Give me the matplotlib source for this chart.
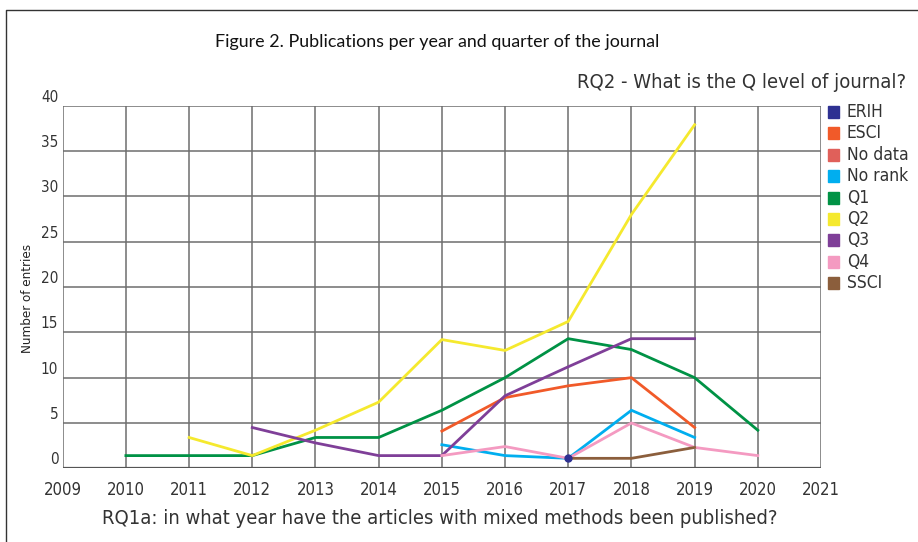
import matplotlib
matplotlib.use("Agg")
import matplotlib.pyplot as plt
from matplotlib.patches import Rectangle
from matplotlib.lines import Line2D

# data
years = [2009, 2010, 2011, 2012, 2013, 2014, 2015, 2016, 2017, 2018, 2019, 2020, 2021]
categories = ["ERIH", "ESCI", "No data", "No rank", "Q1", "Q2", "Q3", "Q4", "SSCI"]
colors = ["#2e3192", "#f15a29", "#e0605a", "#00aeef", "#009245", "#f5e92e", "#7f3f98", "#f49ac1", "#8b5e3c"]

erih_x = [2017]
erih_y = [1.1]
esci_x = [2015, 2016, 2017, 2018, 2019]
esci_y = [4.1, 7.8, 9.1, 10.0, 4.5]
norank_x = [2015, 2016, 2017, 2018, 2019]
norank_y = [2.6, 1.4, 1.1, 6.4, 3.4]
q1_x = [2010, 2011, 2012, 2013, 2014, 2015, 2016, 2017, 2018, 2019, 2020]
q1_y = [1.4, 1.4, 1.4, 3.4, 3.4, 6.4, 10.0, 14.3, 13.1, 10.0, 4.2]
q2_x = [2011, 2012, 2013, 2014, 2015, 2016, 2017, 2018, 2019]
q2_y = [3.4, 1.4, 4.2, 7.3, 14.2, 13.0, 16.2, 28.0, 37.9]
q3_x = [2012, 2013, 2014, 2015, 2016, 2017, 2018, 2019]
q3_y = [4.5, 2.8, 1.4, 1.4, 8.0, 11.2, 14.3, 14.3]
q4_x = [2015, 2016, 2017, 2018, 2019, 2020]
q4_y = [1.4, 2.4, 1.1, 5.0, 2.3, 1.4]
ssci_x = [2017, 2018, 2019]
ssci_y = [1.1, 1.1, 2.3]

cond = dict(family="DejaVu Sans", stretch="condensed")

fig = plt.figure(figsize=(9.18, 5.42), dpi=100)
ax = fig.add_axes([62.7 / 918, 1 - 468.3 / 542, (821 - 62.7) / 918, (468.3 - 105.7) / 542])

grid_c = "#6e6e6e"
for yv in range(0, 41, 5):
    ax.axhline(yv, color=grid_c, lw=1.1, zorder=1)
for xv in years:
    ax.axvline(xv, color=grid_c, lw=1.1, zorder=1)
ax.axhline(0, color="#555555", lw=1.6, zorder=1)

ax.plot(esci_x, esci_y, color=colors[1], lw=2.0, zorder=3)
ax.plot(norank_x, norank_y, color=colors[3], lw=2.0, zorder=3)
ax.plot(q1_x, q1_y, color=colors[4], lw=2.0, zorder=3)
ax.plot(q2_x, q2_y, color=colors[5], lw=2.0, zorder=3)
ax.plot(q3_x, q3_y, color=colors[6], lw=2.0, zorder=3)
ax.plot(q4_x, q4_y, color=colors[7], lw=2.0, zorder=3)
ax.plot(ssci_x, ssci_y, color=colors[8], lw=2.0, zorder=3)
ax.plot(erih_x, erih_y, "o", color=colors[0], ms=5, zorder=4)

ax.set_xlim(2009, 2021)
ax.set_ylim(0, 40)
for s in ax.spines.values():
    s.set_visible(False)
ax.set_xticks([])
ax.set_yticks([])

# tick labels
for xv in years:
    ax.text(xv, -1.4, str(xv), ha="center", va="top", fontsize=12, color="#333333", **cond)
for yv in range(0, 41, 5):
    ax.text(2009 - 0.07, yv + 0.1, str(yv), ha="right", va="bottom", fontsize=11, color="#333333", **cond)

fig.text(28 / 918, 1 - 298 / 542, "Number of entries", rotation=90, ha="center", va="center",
         fontsize=9.5, color="#222222", **cond)
fig.text(440 / 918, 1 - 519 / 542, "RQ1a: in what year have the articles with mixed methods been published?",
         ha="center", va="center", fontsize=14.5, color="#333333", **cond)
fig.text(906 / 918, 1 - 83 / 542, "RQ2 - What is the Q level of journal?",
         ha="right", va="center", fontsize=14.5, color="#333333", **cond)
fig.text(437 / 918, 1 - 42 / 542, "Figure 2. Publications per year and quarter of the journal",
         ha="center", va="center", fontsize=12.9, color="#111111", family="Lato")

# legend
for i, (name, c) in enumerate(zip(categories, colors)):
    yc = 112 + i * 21.4
    fig.patches.append(Rectangle((828 / 918, 1 - (yc + 6) / 542), 11 / 918, 12 / 542,
                                 transform=fig.transFigure, color=c, figure=fig))
    fig.text(847 / 918, 1 - yc / 542, name, ha="left", va="center", fontsize=12.5, color="#333333", **cond)

# outer frame
fig.add_artist(Line2D([6 / 918, 6 / 918, 1], [0, 1 - 10 / 542, 1 - 10 / 542],
                      transform=fig.transFigure, color="#333333", lw=1))

fig.savefig("out.png", dpi=100)
